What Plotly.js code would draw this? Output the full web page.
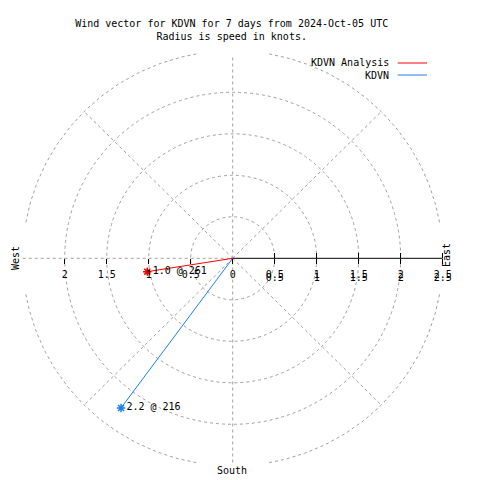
<!DOCTYPE html>
<html>
<head>
<meta charset="utf-8">
<script src="https://cdn.plot.ly/plotly-3.0.1.min.js"></script>
<style>html,body{margin:0;padding:0;background:#fff;}#chart{width:480px;height:480px;}</style>
</head>
<body>
<div id="chart"></div>
<script>
// ---- data ----
const seriesNames = ['KDVN Analysis', 'KDVN'];
const speedKnots = [1.03, 2.24];
const directionDeg = [261, 216.4];
const radialTicks = [-2, -1.5, -1, -0.5, 0, 0.5, 1, 1.5, 2, 2.5];
const gridRadii = [0.5, 1, 1.5, 2];
const outerRadius = 2.5;
const titleLines = ['Wind vector for KDVN for 7 days from 2024-Oct-05 UTC', 'Radius is speed in knots.'];
const compassLabels = ['West', 'East', 'South'];

// ---- styling ----
const FONT = {family: 'DejaVu Sans Mono, Liberation Mono, monospace', size: 10, color: '#000'};
const GRID = '#a0a0a0';
const DASH = '3px,3px';
const seriesColors = ['#ff0000', '#1a7ff0'];

const toRad = d => d * Math.PI / 180;
const traces = [];

// outer circle arcs (drawn with gaps around the compass axes)
const ox = [], oy = [];
for (let q = 0; q < 4; q++) {
  for (let a = q * 90 + 10; a <= q * 90 + 80; a += 1) {
    ox.push(outerRadius * Math.sin(toRad(a)));
    oy.push(outerRadius * Math.cos(toRad(a)));
  }
  ox.push(null); oy.push(null);
}
traces.push({x: ox, y: oy, mode: 'lines', line: {color: GRID, width: 1, dash: DASH},
  hoverinfo: 'skip', showlegend: false});

// invisible trace on overlay axis so it is drawn
traces.push({x: [0], y: [0], xaxis: 'x2', mode: 'markers', marker: {opacity: 0}, hoverinfo: 'skip', showlegend: false});

// wind vectors
seriesNames.forEach((name, i) => {
  const s = speedKnots[i], d = directionDeg[i];
  const px = s * Math.sin(toRad(d)), py = s * Math.cos(toRad(d));
  traces.push({x: [0, px], y: [0, py], mode: 'lines', name: name,
    line: {color: seriesColors[i], width: 1}, hoverinfo: 'skip', showlegend: false});
  traces.push({x: [px], y: [py], mode: 'markers+text', name: name,
    marker: {symbol: 'asterisk-open', size: 7, color: seriesColors[i], line: {color: seriesColors[i], width: 1.5}},
    text: [s.toFixed(1) + ' @ ' + Math.round(d)], textposition: 'middle right',
    textfont: FONT, hoverinfo: 'skip', showlegend: false});
});

const shapes = [];
gridRadii.forEach(r => shapes.push({type: 'circle', xref: 'x', yref: 'y', x0: -r, x1: r, y0: -r, y1: r,
  line: {color: GRID, width: 1, dash: DASH}, layer: 'below'}));
[45, 135, 225, 315].forEach(a => shapes.push({type: 'line', xref: 'x', yref: 'y', x0: 0, y0: 0,
  x1: outerRadius * Math.sin(toRad(a)), y1: outerRadius * Math.cos(toRad(a)),
  line: {color: GRID, width: 1, dash: DASH}, layer: 'below'}));
shapes.push({type: 'line', xref: 'x', yref: 'y', x0: 0, x1: 0, y0: -2.46, y1: 2.45, line: {color: GRID, width: 1, dash: DASH}, layer: 'below'});
shapes.push({type: 'line', xref: 'x', yref: 'y', x0: -outerRadius, x1: 0, y0: 0, y1: 0, line: {color: GRID, width: 1, dash: DASH}, layer: 'below'});
shapes.push({type: 'line', xref: 'x', yref: 'y', x0: 0, x1: outerRadius, y0: 0, y1: 0, line: {color: '#000', width: 1}, layer: 'below'});
// legend samples
seriesNames.forEach((n, i) => shapes.push({type: 'line', xref: 'paper', yref: 'paper',
  x0: 397.7 / 480, x1: 427 / 480, y0: 1 - (63 + 12 * i) / 480, y1: 1 - (63 + 12 * i) / 480,
  line: {color: seriesColors[i], width: 1}}));

const annotations = [];
seriesNames.forEach((n, i) => annotations.push({text: n, xref: 'paper', yref: 'paper', x: 391 / 480, y: 1 - (63 + 12 * i) / 480,
  xanchor: 'right', yanchor: 'middle', showarrow: false, font: FONT}));
annotations.push({text: compassLabels[0], xref: 'paper', yref: 'paper', x: 15 / 480, y: 1 - 258 / 480, textangle: -90,
  xanchor: 'center', yanchor: 'middle', showarrow: false, font: FONT});
annotations.push({text: compassLabels[1], xref: 'paper', yref: 'paper', x: 446 / 480, y: 1 - 255 / 480, textangle: -90,
  xanchor: 'center', yanchor: 'middle', showarrow: false, font: FONT});
annotations.push({text: compassLabels[2], xref: 'paper', yref: 'paper', x: 231.5 / 480, y: 1 - 470.5 / 480,
  xanchor: 'center', yanchor: 'middle', showarrow: false, font: FONT});

const cx = 232.7, cy = 258.3, sx = 84, sy = 83;
const xr = [-cx / sx, (480 - cx) / sx];
const yr = [-(480 - cy) / sy, cy / sy];
const axisPos = (480 - cy) / 480;

const layout = {
  width: 480, height: 480, margin: {l: 0, r: 0, t: 0, b: 0, pad: 0},
  paper_bgcolor: '#fff', plot_bgcolor: '#fff', showlegend: false, font: FONT,
  title: {text: titleLines.join('<br>'), x: 231.7 / 480, xanchor: 'center', y: 1 - 27.2 / 480, yanchor: 'middle', font: FONT},
  xaxis: {range: xr, anchor: 'free', position: axisPos, showgrid: false, zeroline: false, showline: false,
    tickmode: 'array', tickvals: radialTicks, ticktext: radialTicks.map(v => String(Math.abs(v))),
    ticks: 'outside', ticklen: 5, tickcolor: '#000', tickwidth: 1, tickfont: FONT, ticklabelstandoff: 2, fixedrange: true},
  xaxis2: {range: xr, overlaying: 'x', anchor: 'free', position: axisPos, side: 'bottom', showgrid: false, zeroline: false, showline: false,
    tickmode: 'array', tickvals: radialTicks.filter(v => v > 0), ticktext: radialTicks.filter(v => v > 0).map(v => String(v)),
    ticks: 'inside', ticklen: 5, tickcolor: '#000', tickwidth: 1, tickfont: FONT, ticklabelstandoff: 12, fixedrange: true},
  yaxis: {range: yr, visible: false, fixedrange: true},
  shapes: shapes, annotations: annotations
};

Plotly.newPlot('chart', traces, layout, {staticPlot: true, displayModeBar: false});
</script>
</body>
</html>
